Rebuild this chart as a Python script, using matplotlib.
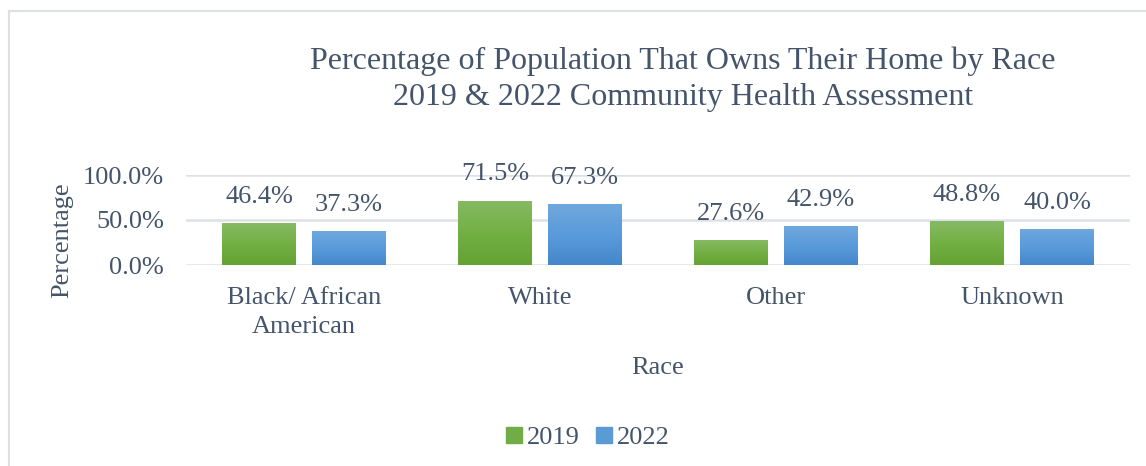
import matplotlib
matplotlib.use("Agg")
import matplotlib.pyplot as plt
import numpy as np
from matplotlib.patches import Rectangle
from matplotlib.lines import Line2D
from matplotlib.colors import LinearSegmentedColormap

categories = ["Black/ African\nAmerican", "White", "Other", "Unknown"]
series_names = ["2019", "2022"]
values_2019 = [0.464, 0.715, 0.276, 0.488]
values_2022 = [0.373, 0.673, 0.429, 0.400]
yticks = [0.0, 0.5, 1.0]
ytick_labels = ["0.0%", "50.0%", "100.0%"]

TXT = "#44546A"
FS = 19
plt.rcParams['font.family'] = ['Liberation Serif', 'DejaVu Serif']

fig = plt.figure(figsize=(11.46, 4.66), dpi=100)
fig.lines.append(Line2D([9/1146, 9/1146], [0, 1-11/466], transform=fig.transFigure,
                        color="#DDE1E6", linewidth=1.5))
fig.lines.append(Line2D([9/1146, 1], [1-11/466, 1-11/466], transform=fig.transFigure,
                        color="#DDE1E6", linewidth=1.5))
ax = fig.add_axes([186/1146, 1-265/466, 944/1146, 90/466])

x = np.arange(len(categories))
w = 74/236
gap = 16/236
off = (w + gap) / 2

green_cmap = LinearSegmentedColormap.from_list("g", ["#64A234", "#73B044", "#86BA64"])
blue_cmap = LinearSegmentedColormap.from_list("b", ["#4487CA", "#5A9BDB", "#6FA8DD"])

grad = np.linspace(0, 1, 256).reshape(-1, 1)
for vals, sign, cmap, col in [(values_2019, -1, green_cmap, "#70AD47"), (values_2022, 1, blue_cmap, "#5B9BD5")]:
    bars = ax.bar(x + sign*off, vals, width=w, color=col, zorder=2)
    for b, v in zip(bars, vals):
        x0 = b.get_x(); x1 = x0 + b.get_width()
        im = ax.imshow(grad, extent=(x0, x1, 0, v), origin="lower", cmap=cmap, aspect="auto", zorder=3)
        im.set_clip_path(b)
        b.set_alpha(0)
        ax.annotate(f"{v*100:.1f}%", (b.get_x() + b.get_width()/2, v), xytext=(0, 11),
                    textcoords="offset points", ha="center", va="bottom", fontsize=FS, color=TXT)

ax.set_xlim(-0.5, len(categories) - 0.5)
ax.set_ylim(0, 1.0)
ax.set_yticks(yticks)
ax.set_yticklabels(ytick_labels, fontsize=FS, color=TXT)
ax.set_xticks(x)
ax.set_xticklabels(categories, fontsize=FS, color=TXT, linespacing=1.4)
ax.tick_params(axis="x", length=0, pad=16)
ax.tick_params(axis="y", length=0, pad=16)
for s in ax.spines.values():
    s.set_visible(False)
ax.grid(axis="y", color="#DDE1E6", linewidth=1.8, zorder=0)
ax.set_axisbelow(True)

fig.text(62/1146, 1-240/466, "Percentage", rotation=90, ha="center", va="center", fontsize=FS, color=TXT)
fig.text(658/1146, 1-368/466, "Race", ha="center", va="center", fontsize=FS, color=TXT)
fig.text(683/1146, 1-61/466, "Percentage of Population That Owns Their Home by Race", ha="center", va="center",
         fontsize=23, color=TXT)
fig.text(683/1146, 1-97/466, "2019 & 2022 Community Health Assessment", ha="center", va="center",
         fontsize=23, color=TXT)

handles = [Rectangle((0, 0), 1, 1, color="#70AD47"), Rectangle((0, 0), 1, 1, color="#5B9BD5")]
leg = fig.legend(handles, series_names, loc="center", bbox_to_anchor=(588/1146, 1-438/466), ncol=2,
                 frameon=False, fontsize=FS, handlelength=0.6, handleheight=0.6, handletextpad=0.2,
                 columnspacing=0.6)
for t in leg.get_texts():
    t.set_color(TXT)

fig.savefig("out.png", dpi=100)
